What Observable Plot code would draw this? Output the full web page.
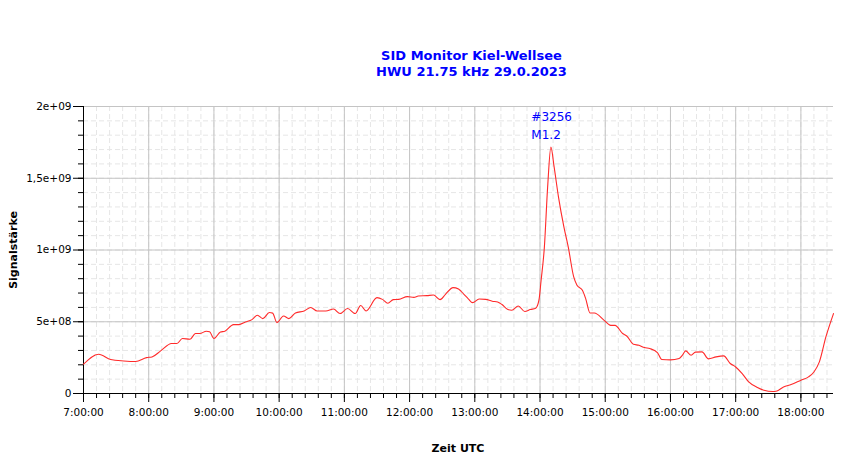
<!DOCTYPE html>
<html>
<head>
<meta charset="utf-8">
<script src="https://cdn.jsdelivr.net/npm/d3@7"></script>
<script src="https://cdn.jsdelivr.net/npm/@observablehq/plot@0.6"></script>
<style>
  html, body { margin: 0; padding: 0; background: #fff; }
  #wrap { position: relative; width: 850px; height: 459px; font-family: "DejaVu Sans", sans-serif; }
  .title { position: absolute; left: 0; width: 943px; text-align: center; color: #0000ff; font-weight: bold; font-size: 13px; line-height: 16px; }
  .ylab { position: absolute; left: 13px; top: 250px; transform: translate(-50%, -50%) rotate(-90deg); font-weight: bold; font-size: 11px; white-space: nowrap; color: #000; }
  .xlab { position: absolute; left: 458px; top: 448px; transform: translate(-50%, -50%); font-weight: bold; font-size: 11px; white-space: nowrap; color: #000; }
  #chart { position: absolute; left: 0; top: 0; }
</style>
</head>
<body>
<div id="wrap">
  <div id="chart"></div>
  <div class="title" style="top:48px">SID Monitor Kiel-Wellsee</div>
  <div class="title" style="top:64px">HWU 21.75 kHz 29.0.2023</div>
  <div class="ylab">Signalstärke</div>
  <div class="xlab">Zeit UTC</div>
</div>
<script>
// Zeit (UTC) und Signalstärke
const times = ["07:00","07:14","07:25","07:37","07:48","07:58","08:03","08:11","08:21","08:26","08:31","08:38","08:43","08:47","08:53","08:56","09:00","09:06","09:10","09:18","09:23","09:29","09:35","09:40","09:45","09:51","09:54","09:58","10:04","10:09","10:15","10:23","10:29","10:35","10:43","10:50","10:56","11:03","11:10","11:15","11:20","11:30","11:35","11:40","11:45","11:50","11:58","12:04","12:08","12:16","12:22","12:28","12:33","12:40","12:45","12:50","12:54","12:58","13:04","13:10","13:16","13:21","13:25","13:30","13:34","13:40","13:46","13:51","13:56","13:59","14:01","14:04","14:07","14:10","14:13","14:17","14:22","14:26","14:31","14:34","14:39","14:42","14:46","14:50","14:59","15:05","15:09","15:16","15:20","15:26","15:31","15:36","15:41","15:48","15:52","16:00","16:08","16:11","16:14","16:19","16:23","16:29","16:35","16:42","16:49","16:55","17:00","17:06","17:12","17:20","17:26","17:34","17:38","17:44","17:51","18:00","18:07","18:12","18:17","18:23","18:30"];
const values = [204e6,274e6,237e6,227e6,223e6,250e6,255e6,297e6,348e6,348e6,383e6,378e6,418e6,418e6,434e6,430e6,383e6,429e6,434e6,480e6,480e6,498e6,515e6,545e6,522e6,564e6,560e6,494e6,540e6,522e6,561e6,575e6,599e6,575e6,575e6,589e6,557e6,592e6,557e6,613e6,575e6,668e6,656e6,629e6,654e6,656e6,675e6,670e6,679e6,682e6,686e6,654e6,691e6,738e6,728e6,691e6,660e6,633e6,659e6,656e6,643e6,638e6,620e6,587e6,580e6,610e6,571e6,585e6,594e6,650e6,789e6,1020e6,1438e6,1717e6,1577e6,1369e6,1160e6,1020e6,812e6,754e6,719e6,661e6,561e6,561e6,510e6,475e6,475e6,418e6,399e6,343e6,336e6,320e6,313e6,285e6,237e6,234e6,244e6,267e6,297e6,267e6,288e6,290e6,241e6,255e6,262e6,209e6,185e6,139e6,81e6,42e6,23e6,14e6,18e6,46e6,63e6,93e6,116e6,150e6,220e6,394e6,557e6];

const xTickHours = ["07:00","08:00","09:00","10:00","11:00","12:00","13:00","14:00","15:00","16:00","17:00","18:00"];
const yTicks = [0, 5e8, 1e9, 1.5e9, 2e9];
const yTickLabels = ["0", "5e+08", "1e+09", "1,5e+09", "2e+09"];
const xDomain = ["07:00", "18:30"];
const annotTime = ["13:52", "13:52"];
const annotValue = [1.926e9, 1.80e9];
const annotText = ["#3256", "M1.2"];

const toDate = t => new Date(`2023-01-29T${t}:00Z`);
const data = times.map((t, i) => ({time: toDate(t), value: values[i]}));
const majorX = xTickHours.map(toDate);
const minorX = d3.utcMinute.every(12).range(toDate("07:00"), toDate("18:31"));
const minorY = d3.range(0, 2e9 + 1, 1e8);
const annot = annotText.map((s, i) => ({time: toDate(annotTime[i]), value: annotValue[i], text: s}));

const chart = Plot.plot({
  width: 850,
  height: 459,
  marginTop: 106,
  marginBottom: 66,
  marginLeft: 83,
  marginRight: 17,
  style: {fontFamily: "DejaVu Sans, sans-serif", fontSize: "10.5px", color: "#000", background: "#fff"},
  x: {type: "utc", domain: xDomain.map(toDate)},
  y: {domain: [0, 2e9]},
  marks: [
    Plot.ruleX(minorX, {stroke: "#e6e6e6", strokeDasharray: "5,3"}),
    Plot.ruleY(minorY, {stroke: "#e6e6e6", strokeDasharray: "5,3"}),
    Plot.ruleX(majorX, {stroke: "#c4c4c4"}),
    Plot.ruleY(yTicks, {stroke: "#c4c4c4"}),
    Plot.axisX(minorX, {tickSize: 5, tickFormat: () => "", stroke: "#000", label: null}),
    Plot.axisX(majorX, {tickSize: 9, tickPadding: 6, tickFormat: d3.utcFormat("%-H:%M:%S"), stroke: "#000", fill: "#000", label: null}),
    Plot.axisY(minorY, {tickSize: 5, tickFormat: () => "", stroke: "#000", label: null}),
    Plot.axisY(yTicks, {tickSize: 10, tickPadding: 2, tickFormat: (d) => yTickLabels[yTicks.indexOf(d)], stroke: "#000", fill: "#000", label: null}),
    Plot.ruleY([0], {stroke: "#000"}),
    Plot.ruleX([toDate(xDomain[0])], {stroke: "#000"}),
    Plot.line(data, {x: "time", y: "value", stroke: "#ff2a2a", strokeWidth: 1.1, curve: "monotone-x"}),
    Plot.text(annot, {x: "time", y: "value", text: "text", fill: "#0000ff", textAnchor: "start", fontSize: 12})
  ]
});
document.getElementById("chart").append(chart);
</script>
</body>
</html>
